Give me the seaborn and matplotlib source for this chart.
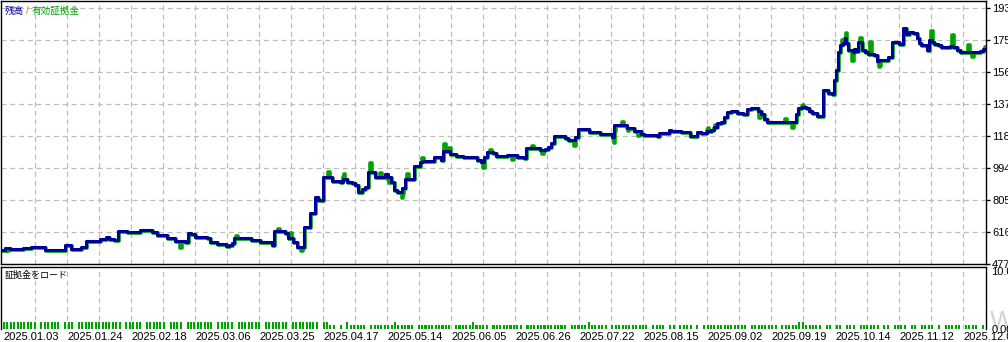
import numpy as np
import pandas as pd
import matplotlib
matplotlib.use("Agg")
import matplotlib.pyplot as plt
from matplotlib import transforms
import seaborn as sns

# ---------------- data ----------------
# balance change points (deal index -> account balance)
bal_idx = [0, 4, 9, 22, 30, 44, 64, 70, 80, 85, 99, 105, 108, 113, 117, 126, 139, 151, 156, 166,
           174, 184, 187, 190, 194, 206, 209, 216, 225, 228, 231, 233, 250, 259, 271, 273, 284, 287,
           292, 296, 303, 309, 314, 317, 322, 331, 339, 342, 346, 351, 354, 357, 361, 364, 367, 374,
           384, 387, 390, 393, 396, 401, 404, 413, 419, 422, 433, 440, 442, 449, 455, 462, 476, 480,
           483, 486, 492, 495, 506, 516, 523, 525, 539, 544, 547, 550, 553, 564, 567, 574, 577, 588,
           599, 611, 613, 626, 633, 640, 643, 656, 658, 668, 670, 680, 689, 696, 700, 706, 710, 713,
           716, 720, 723, 726, 730, 736, 742, 746, 750, 757, 760, 763, 766, 795, 797, 801, 805, 808,
           811, 816, 822, 827, 831, 833, 835, 837, 839, 842, 844, 845, 847, 852, 853, 855, 857, 861,
           864, 867, 873, 876, 878, 887, 891, 898, 902, 905, 908, 912, 916, 918, 920, 926, 928, 931,
           933, 937, 940, 949, 952, 956, 959, 979, 982, 985]
balance = [509.7, 521.5, 515.6, 521.5, 527.4, 512.0, 539.2, 515.6, 527.4, 562.8, 574.7, 586.5, 574.7,
           568.8, 621.9, 616.0, 627.8, 616.0, 598.3, 580.6, 562.8, 556.9, 610.1, 604.2, 586.5, 580.6,
           556.9, 545.1, 533.3, 539.2, 551.0, 580.6, 568.8, 556.9, 539.2, 624.0, 610.1, 580.6, 556.9,
           527.4, 645.5, 728.2, 822.7, 805.0, 940.8, 917.2, 911.3, 929.0, 911.3, 905.4, 893.6, 852.2,
           870.0, 881.8, 970.4, 940.8, 958.5, 940.8, 911.3, 864.1, 852.2, 875.9, 929.0, 1005.8, 1029.4,
           1035.3, 1059.0, 1041.2, 1094.4, 1076.7, 1064.9, 1059.0, 1041.2, 1029.4, 1059.0, 1088.5,
           1082.6, 1064.9, 1070.8, 1059.0, 1053.0, 1112.1, 1100.3, 1106.2, 1118.0, 1141.6, 1183.0,
           1171.2, 1159.4, 1177.1, 1224.3, 1206.6, 1194.8, 1177.1, 1250.0, 1230.2, 1212.5, 1194.8,
           1188.9, 1183.0, 1200.7, 1218.4, 1212.5, 1206.6, 1183.0, 1206.6, 1200.7, 1212.5, 1218.4,
           1236.1, 1259.8, 1265.7, 1295.2, 1324.7, 1330.6, 1318.8, 1312.9, 1342.4, 1348.3, 1330.6,
           1312.9, 1283.4, 1265.7, 1312.9, 1348.3, 1354.3, 1348.3, 1330.6, 1318.8, 1301.1, 1454.7,
           1436.9, 1431.0, 1513.7, 1572.8, 1679.1, 1720.4, 1732.2, 1761.8, 1732.2, 1690.9, 1679.1,
           1696.8, 1685.0, 1738.1, 1690.9, 1679.1, 1667.3, 1661.4, 1625.9, 1631.8, 1649.6, 1738.1,
           1726.3, 1820.8, 1785.4, 1797.2, 1791.3, 1761.8, 1732.2, 1720.4, 1690.9, 1749.9, 1738.1,
           1726.3, 1720.4, 1708.6, 1714.5, 1708.6, 1690.9, 1679.1, 1685.0, 1696.8, 1696.8]

# floating profit/loss excursions (deal index -> equity minus balance)
fpl_idx = [5, 178, 234, 276, 288, 299, 326, 341, 368, 378, 386, 400, 405, 420, 442, 447, 481, 488,
           510, 530, 540, 572, 612, 620, 625, 636, 705, 712, 757, 783, 790, 800, 840, 843, 850, 858,
           868, 877, 929, 950, 966, 970, 983]
fpl = [-12, -35, 18, 18, 40, -18, 35, 35, 59, 30, -30, -25, 35, 30, 50, 25, -30, 20, -20, 20, -18,
       -25, -30, 25, -10, -20, 25, 18, -35, 25, -25, 20, 40, 35, -60, 30, 80, -30, 60, 75, 50, -20, 20]

# margin load per deal slot: '1' full, 'h' small, '0' none
load_pattern = ("1111111111011111101110111111111111101"
                "1111011111101111011111111011111011111110111111101111111101"
                "1hh0h01"
                "hhhhh0hhhhhhh1hhhhh0hhhhhhhhhh0hhhhh1hhhh0hhhhhhhhh0hhhhhhhhhhhh0hhhhh1hhhhh0hhhhhhhhhhh0hhh"
                "h0hh0hhhh0h0hhhhhhhhhhhhh0hhhhhhhh0hhhhh11hhhhh0hh0hh0hhh0hhhhhh0hh0hhhh0hh0hhhh0h0hhhhh0hhhh0h")
load_levels = {"1": 1.1, "h": 0.65, "0": 0.0}

y_tick_vals = [616.40, 805.35, 994.30, 1183.25, 1372.20, 1561.15, 1750.10, 1939.05]
y_bottom_label = "477.43"
date_labels = ["2025.01.03", "2025.01.24", "2025.02.18", "2025.03.06", "2025.03.25", "2025.04.17",
               "2025.05.14", "2025.06.05", "2025.06.26", "2025.07.22", "2025.08.15", "2025.09.02",
               "2025.09.19", "2025.10.14", "2025.11.12", "2025.12.04"]

# ---------------- styling ----------------
BLUE = "#00009c"
GREEN = "#00a400"
GRID = "#bdbdbd"

sns.set_theme(style="white")
plt.rcParams["font.family"] = ["Liberation Sans Narrow", "Liberation Sans", "DejaVu Sans"]
JP = ["Noto Sans CJK JP", "DejaVu Sans"]

W, H = 1008, 342
fig = plt.figure(figsize=(W / 100, H / 100), dpi=100)
fig.patch.set_facecolor("white")


def fx(px):
    return px / W


def fy(py):
    return 1 - py / H


ax = fig.add_axes([fx(1), fy(264), fx(986) - fx(1), fy(1) - fy(264)])
ax2 = fig.add_axes([fx(1), fy(329), fx(986) - fx(1), fy(267) - fy(329)])

XMAX = 985

# ---------------- main panel ----------------
bx = np.array(bal_idx)
bv = np.array(balance)


def bal_at(t):
    return bv[np.searchsorted(bx, t, side="right") - 1]


pts = sorted(set(bal_idx) | set(fpl_idx) | set(f + 2 for f in fpl_idx))
pts = [p for p in pts if p <= XMAX]
eq = [bal_at(t) + sum(d for f, d in zip(fpl_idx, fpl) if f <= t < f + 2) for t in pts]

eq_df = pd.DataFrame({"idx": pts, "equity": eq})
bal_df = pd.DataFrame({"idx": bal_idx, "balance": balance})

sns.lineplot(data=eq_df, x="idx", y="equity", drawstyle="steps-post", color=GREEN,
             linewidth=2.6, ax=ax, estimator=None)
gl = ax.lines[-1]
gl.set_transform(transforms.offset_copy(ax.transData, fig=fig, x=1.0, y=-1.3, units="dots"))
sns.lineplot(data=bal_df, x="idx", y="balance", drawstyle="steps-post", color=BLUE,
             linewidth=2.2, ax=ax, estimator=None)

ax.set_xlim(0, XMAX)
ylo, yhi = 427.0, 1980.3
ax.set_ylim(ylo, yhi)
ax.set_xlabel("")
ax.set_ylabel("")

grid_x = [2 + 32 * k for k in range(1, 31)]
ax.set_xticks(grid_x)
ax.set_xticklabels([])
ax.tick_params(axis="x", length=0)
ax.yaxis.tick_right()
ax.set_yticks([ylo] + y_tick_vals)
ax.set_yticklabels([y_bottom_label] + ["%.2f" % v for v in y_tick_vals])
ax.tick_params(axis="y", length=3, width=1, pad=1.5, labelsize=8.0, colors="black", direction="out")
ax.grid(True, color=GRID, linestyle=(0, (4, 3)), linewidth=0.9)
for s in ax.spines.values():
    s.set_color("black")
    s.set_linewidth(1.0)
ax.set_facecolor("white")

# legend-like title
fig.text(fx(5), fy(11), "残高", color="#000090", fontsize=6.9, family=JP, va="center", ha="left")
fig.text(fx(25.5), fy(11), "/", color="#c07a20", fontsize=7, va="center", ha="left")
fig.text(fx(32), fy(11), "有効証拠金", color=GREEN, fontsize=6.9, family=JP, va="center", ha="left")

# ---------------- lower panel ----------------
loads = [load_levels[c] for c in load_pattern]
n = len(loads)
slot_x = [3 + i * (979 / (n - 1)) for i in range(n)]
bar_df = pd.DataFrame({"slot": slot_x, "load": loads})
sns.barplot(data=bar_df, x="slot", y="load", native_scale=True, color=GREEN, saturation=1,
            errorbar=None, width=0.6, linewidth=0, ax=ax2)

ax2.set_xlim(0, XMAX)
ax2.set_ylim(0, 10)
ax2.set_xlabel("")
ax2.set_ylabel("")
ax2.set_xticks([2 + 32 * k for k in range(0, 31)])
labs = []
for k in range(0, 31):
    labs.append(date_labels[k // 2] if k % 2 == 0 and k // 2 < len(date_labels) else "")
ax2.set_xticklabels(labs)
for t in ax2.get_xticklabels():
    t.set_ha("left")
ax2.tick_params(axis="x", length=0, pad=2, labelsize=8.0, colors="black")
ax2.grid(True, axis="x", color=GRID, linestyle=(0, (4, 3)), linewidth=0.9)
ax2.xaxis.get_gridlines()[0].set_visible(False)
ax2.yaxis.tick_right()
ax2.set_yticks([0, 10])
ax2.set_yticklabels(["0.00", "10.00"])
ax2.tick_params(axis="y", length=0, pad=4, labelsize=8.0, colors="black")
yl = ax2.get_yticklabels()
yl[1].set_va("top")
for s in ["top", "left", "right"]:
    ax2.spines[s].set_color("black")
    ax2.spines[s].set_linewidth(1.0)
ax2.spines["bottom"].set_visible(False)
ax2.set_facecolor("white")

fig.text(fx(5), fy(275), "証拠金をロード", color="black", fontsize=6.5, family=JP, va="center", ha="left")

# faint watermark at bottom right
fig.text(fx(990), fy(322), "W", color="#d4d4d4", fontsize=19, va="center", ha="left", zorder=-1)

fig.savefig("out.png", dpi=100, facecolor="white")
